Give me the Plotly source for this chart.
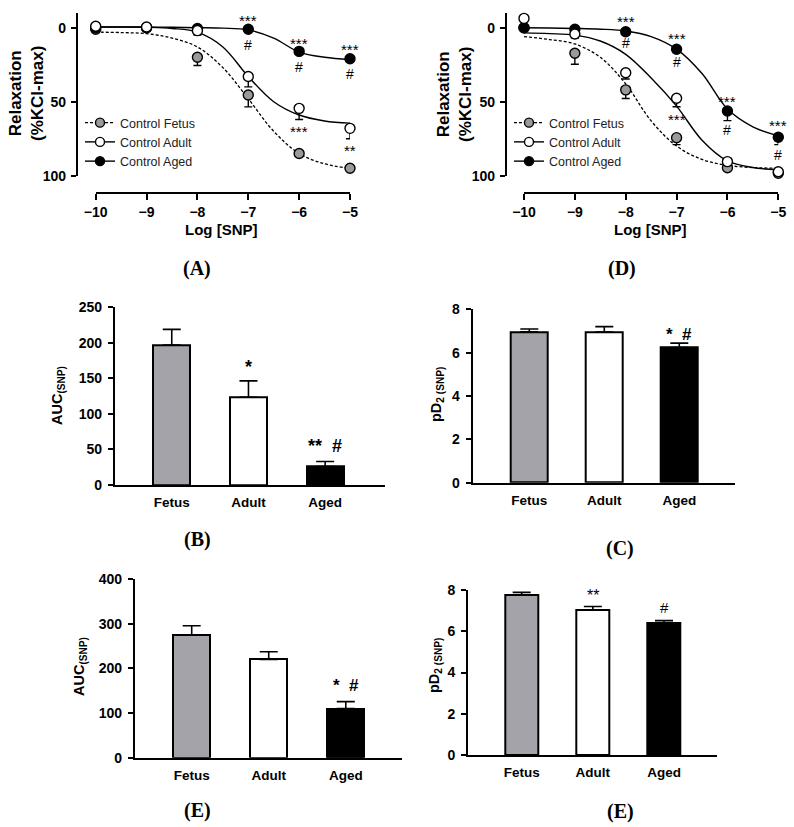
import plotly.graph_objects as go

# ---------------- data ----------------
log_snp = [-10, -9, -8, -7, -6, -5]
x_ticks = [-10, -9, -8, -7, -6, -5]

# Panel A (mean, error toward larger relaxation)
A_fetus = [1.0, 0.0, 20.0, 45.5, 85.0, 95.0]
A_fetus_err = [2.0, 1.5, 5.5, 8.0, 1.5, 0.5]
A_adult = [-1.0, -0.5, 2.0, 33.0, 54.5, 68.0]
A_adult_err = [1.0, 1.0, 3.0, 7.0, 7.5, 7.0]
A_aged = [0.0, 0.0, 0.5, 1.0, 16.0, 21.0]
A_aged_err = [0.5, 0.5, 0.5, 1.0, 2.0, 2.0]

# fitted curves
curve_x = [-10, -9.5, -9, -8.5, -8, -7.5, -7, -6.5, -6, -5.5, -5]
A_fit_fetus = [3.0, 3.3, 4.0, 7.0, 13.0, 27.0, 48.0, 70.0, 85.0, 92.0, 95.0]
A_fit_adult = [-0.5, -0.5, -0.3, 0.5, 3.0, 13.0, 33.0, 50.0, 59.0, 63.0, 64.5]
A_fit_aged = [-0.5, -0.5, -0.5, -0.3, 0.0, 0.3, 1.5, 7.0, 16.5, 20.0, 21.5]

# Panel D
D_fetus = [0.0, 17.3, 42.0, 74.3, 94.6, 98.4]
D_fetus_err = [0.0, 7.4, 5.8, 4.7, 1.0, 0.5]
D_adult = [-6.3, 4.3, 30.4, 47.7, 90.5, 97.3]
D_adult_err = [0.0, 2.7, 4.3, 5.7, 1.0, 0.5]
D_aged = [0.0, 1.0, 2.7, 14.6, 56.3, 74.0]
D_aged_err = [0.0, 0.5, 1.0, 1.5, 6.5, 5.0]

D_fit_fetus = [6.0, 8.0, 11.0, 20.0, 38.0, 63.0, 80.0, 89.0, 93.0, 94.5, 95.0]
D_fit_adult = [3.5, 4.0, 5.0, 9.0, 18.0, 34.0, 53.0, 76.0, 90.0, 94.5, 96.0]
D_fit_aged = [0.0, 0.2, 0.5, 1.0, 2.2, 6.0, 14.5, 31.0, 55.0, 67.0, 73.0]

# Bar panels
groups = ["Fetus", "Adult", "Aged"]
B_auc = [197, 123.5, 26]
B_err = [22, 23, 7]
C_pd2 = [6.96, 6.95, 6.24]
C_err = [0.13, 0.25, 0.2]
E_auc = [275, 220, 110]
E_err = [20.5, 17, 15.5]
F_pd2 = [7.78, 7.04, 6.42]
F_err = [0.11, 0.16, 0.1]

bar_colors = ["#a3a3a9", "#ffffff", "#000000"]
GRAY = "#9a9a9a"
FONT = "Arial, Liberation Sans, sans-serif"
SERIF = "Liberation Serif, Times New Roman, serif"
W, H = 794, 827


def px(x):
    return x / W


def py(y):
    return 1 - y / H


fig = go.Figure()

# ---------------- curve panels ----------------
def add_curve_panel(xa, ya, fetus, fe, adult, ae, aged, ge, ff, fa, fg, leg):
    # fitted lines
    fig.add_trace(go.Scatter(x=curve_x, y=ff, mode="lines", line=dict(color="black", width=1.3, dash="3px,2px"),
                             line_shape="spline", xaxis=xa, yaxis=ya, showlegend=False, hoverinfo="skip"))
    fig.add_trace(go.Scatter(x=curve_x, y=fa, mode="lines", line=dict(color="black", width=1.4),
                             line_shape="spline", xaxis=xa, yaxis=ya, showlegend=False, hoverinfo="skip"))
    fig.add_trace(go.Scatter(x=curve_x, y=fg, mode="lines", line=dict(color="black", width=1.4),
                             line_shape="spline", xaxis=xa, yaxis=ya, showlegend=False, hoverinfo="skip"))
    specs = [(fetus, fe, GRAY), (aged, ge, "black"), (adult, ae, "white")]
    for vals, errs, col in specs:
        fig.add_trace(go.Scatter(
            x=log_snp, y=vals, mode="markers", xaxis=xa, yaxis=ya, showlegend=False, cliponaxis=False,
            marker=dict(size=10, color=col, line=dict(color="black", width=1.4)),
            error_y=dict(type="data", array=errs, arrayminus=[0] * len(errs), symmetric=False,
                         color="black", thickness=1.4, width=4)))
    # legend entries
    for name, col, dash in [("Control Fetus", GRAY, "3px,2px"), ("Control Adult", "white", "solid"),
                            ("Control Aged", "black", "solid")]:
        fig.add_trace(go.Scatter(x=[None], y=[None], mode="lines+markers", name=name, legend=leg,
                                 xaxis=xa, yaxis=ya,
                                 line=dict(color="black", width=1.4, dash=dash),
                                 marker=dict(size=9, color=col, line=dict(color="black", width=1.4))))


add_curve_panel("x", "y", A_fetus, A_fetus_err, A_adult, A_adult_err, A_aged, A_aged_err,
                A_fit_fetus, A_fit_adult, A_fit_aged, "legend")
add_curve_panel("x2", "y2", D_fetus, D_fetus_err, D_adult, D_adult_err, D_aged, D_aged_err,
                D_fit_fetus, D_fit_adult, D_fit_aged, "legend2")

# ---------------- bar panels ----------------
for xa, ya, vals, errs, w in [("x3", "y3", B_auc, B_err, 0.48), ("x4", "y4", C_pd2, C_err, 0.49),
                              ("x5", "y5", E_auc, E_err, 0.48), ("x6", "y6", F_pd2, F_err, 0.47)]:
    fig.add_trace(go.Bar(x=groups, y=vals, xaxis=xa, yaxis=ya, width=w, showlegend=False,
                         marker=dict(color=bar_colors, line=dict(color="black", width=2)),
                         error_y=dict(type="data", array=errs, arrayminus=[0, 0, 0], symmetric=False,
                                      color="black", thickness=1.6, width=9)))

axis_common = dict(showline=True, linecolor="black", linewidth=2.2, showgrid=False, zeroline=False,
                   tickfont=dict(family=FONT, size=14, color="black", weight="bold"),
                   ticks="outside", tickcolor="black", tickwidth=2)

layout = dict(width=W, height=H, margin=dict(l=0, r=0, t=0, b=0, autoexpand=False), plot_bgcolor="white",
              paper_bgcolor="white", font=dict(family=FONT, color="black"), bargap=0)

# Panel A axes
layout["xaxis"] = dict(axis_common, domain=[px(95.7), px(350)], range=[-10, -5], tickvals=x_ticks,
                       ticklen=6, anchor="free", position=py(193), ticklabelstandoff=0)
layout["yaxis"] = dict(axis_common, domain=[py(175.7), py(12.9)], range=[100, -10], tickvals=[0, 50, 100],
                       ticklen=5, anchor="free", position=px(77), ticklabelstandoff=2)
# Panel D axes
layout["xaxis2"] = dict(axis_common, domain=[px(524), px(778.3)], range=[-10, -5], tickvals=x_ticks,
                        ticklen=6, anchor="free", position=py(193), ticklabelstandoff=0)
layout["yaxis2"] = dict(axis_common, domain=[py(175.7), py(12.9)], range=[100, -10], tickvals=[0, 50, 100],
                        ticklen=5, anchor="free", position=px(506), ticklabelstandoff=2)


def bar_axes(n, x0, x1, y0, y1, rng, yr, dt):
    layout[f"xaxis{n}"] = dict(axis_common, domain=[px(x0), px(x1)], range=rng, type="category",
                               ticks="", anchor=f"y{n}", ticklabelstandoff=4,
                               tickfont=dict(family=FONT, size=13.5, color="black", weight="bold"))
    layout[f"yaxis{n}"] = dict(axis_common, domain=[py(y0), py(y1)], range=yr, dtick=dt, ticklen=5,
                               anchor=f"x{n}", ticklabelstandoff=3)


bar_axes(3, 115, 385, 485, 307.3, [-0.74, 2.78], [0, 250], 50)
bar_axes(4, 472.7, 735, 482.7, 309.3, [-0.755, 2.743], [0, 8], 2)
bar_axes(5, 135, 402, 757.7, 579, [-0.736, 2.73], [0, 400], 100)
bar_axes(6, 468.3, 716.7, 755, 590, [-0.75, 2.74], [0, 8], 2)

# legends
leg_common = dict(font=dict(family=FONT, size=12.5, color="#222"), bgcolor="rgba(0,0,0,0)",
                  xanchor="left", yanchor="top", tracegroupgap=0, itemwidth=30, traceorder="normal")
layout["legend"] = dict(leg_common, x=px(80), y=py(108))
layout["legend2"] = dict(leg_common, x=px(509), y=py(108))

ann = []


def text(x, y, t, size, bold=True, angle=0, family=FONT, xref="paper", yref="paper", yshift=0):
    ann.append(dict(x=x, y=y, xref=xref, yref=yref, text=t, showarrow=False, textangle=angle,
                    xanchor="center", yanchor="middle", yshift=yshift,
                    font=dict(family=family, size=size, color="black", weight="bold" if bold else "normal")))


# axis titles
text(px(27), py(94), "Relaxation<br>(%KCl-max)", 17, angle=-90)
text(px(455), py(94), "Relaxation<br>(%KCl-max)", 17, angle=-90)
text(px(221), py(229.5), "Log [SNP]", 15)
text(px(650), py(229.5), "Log [SNP]", 15)
text(px(58), py(396), "AUC<sub>(SNP)</sub>", 14.5, angle=-90)
text(px(80), py(667), "AUC<sub>(SNP)</sub>", 14.5, angle=-90)
text(px(437), py(395), "pD<sub>2 (SNP)</sub>", 14.5, angle=-90)
text(px(435), py(666), "pD<sub>2 (SNP)</sub>", 14.5, angle=-90)

# panel labels
for lx, ly, lab in [(197, 268, "(A)"), (621.7, 268, "(D)"), (197, 539, "(B)"), (620, 548, "(C)"),
                    (197, 810, "(E)"), (620, 811.7, "(E)")]:
    text(px(lx), py(ly), lab, 20, family=SERIF)

# significance marks, panel A
for xx, yy, t in [(-7, -7.0, "***"), (-6, 8.3, "***"), (-5, 12.4, "***"), (-6, 68, "***"), (-5, 80.4, "**")]:
    text(xx, yy, t, 15, bold=False, xref="x", yref="y", yshift=-3.5)
for xx, yy in [(-7, 11.7), (-6, 26.3), (-5, 31.3)]:
    text(xx, yy, "#", 14, bold=False, xref="x", yref="y")
# panel D
for xx, yy, t in [(-8, -6.4, "***"), (-7, 4.9, "***"), (-6, 47.7, "***"), (-5, 63.5, "***"), (-7, 59.7, "***")]:
    text(xx, yy, t, 15, bold=False, xref="x2", yref="y2", yshift=-3.5)
for xx, yy in [(-8, 10.1), (-7, 23.0), (-6, 69.0), (-5, 86.0)]:
    text(xx, yy, "#", 14, bold=False, xref="x2", yref="y2")

# bar panels
text("Adult", 171.6, "*", 18, xref="x3", yref="y3", yshift=-4)
text("Aged", 57.7, "**  #", 18, xref="x3", yref="y3", yshift=-2)
text("Aged", 6.91, "*  #", 17, xref="x4", yref="y4", yshift=-2)
text("Aged", 165, "*  #", 17, xref="x5", yref="y5", yshift=-2)
text("Adult", 7.93, "**", 16, bold=False, xref="x6", yref="y6", yshift=-4)
text("Aged", 7.15, "#", 15, bold=False, xref="x6", yref="y6")

layout["annotations"] = ann
fig.update_layout(**layout)
fig.write_html("out.html", config={"displayModeBar": False},
               post_script="document.body.style.margin='0';document.body.style.padding='0';")
